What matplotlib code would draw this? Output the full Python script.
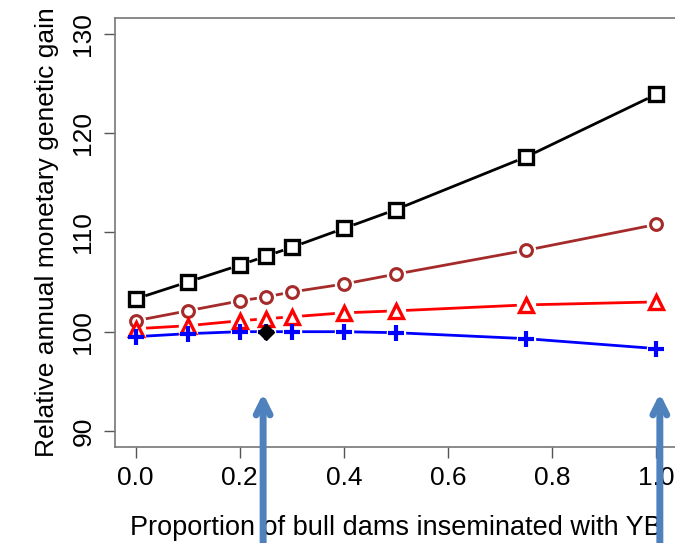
import matplotlib.pyplot as plt

plt.rcParams['font.family'] = ['Liberation Sans', 'DejaVu Sans']

prop = [0.0, 0.1, 0.2, 0.25, 0.3, 0.4, 0.5, 0.75, 1.0]
gain_sq = [103.3, 105.0, 106.7, 107.6, 108.5, 110.4, 112.3, 117.6, 123.9]
gain_circ = [101.1, 102.1, 103.1, 103.5, 104.0, 104.8, 105.8, 108.2, 110.8]
gain_tri = [100.3, 100.6, 101.1, 101.3, 101.5, 101.9, 102.1, 102.7, 103.0]
gain_plus = [99.5, 99.8, 100.0, 100.0, 100.0, 100.0, 99.9, 99.3, 98.3]
ref_x, ref_y = 0.25, 100.0
arrow_x = [0.245, 1.007]

series = [
    (gain_sq, 'black', 's'),
    (gain_circ, '#A52A2A', 'o'),
    (gain_tri, 'red', '^'),
    (gain_plus, 'blue', '+'),
]

fig = plt.figure(figsize=(6.75, 5.43), dpi=100)
ax = fig.add_axes([0.170, 0.177, 0.833, 0.790])

for vals, col, mk in series:
    ax.plot(prop, vals, color=col, lw=2, zorder=2)
    # white halo to make the gaps around the points
    ax.plot(prop, vals, ls='none', marker='o', ms=13, mfc='white', mec='white', zorder=3)
    if mk == '+':
        ax.plot(prop, vals, ls='none', marker='+', ms=12, mew=3, color=col, zorder=4)
    elif mk == 'o':
        ax.plot(prop, vals, ls='none', marker='o', ms=8.5,
                mfc='white', mec=col, mew=2.2, zorder=4)
    else:
        ax.plot(prop, vals, ls='none', marker=mk, ms=9.5,
                mfc='white', mec=col, mew=2.4, zorder=4)

ax.plot([ref_x], [ref_y], ls='none', marker='D', ms=8, color='black', zorder=5)

ax.set_xlim(-0.04, 1.04)
ax.set_ylim(88.4, 131.6)
ax.set_xticks([0.0, 0.2, 0.4, 0.6, 0.8, 1.0])
ax.set_xticklabels(['0.0', '0.2', '0.4', '0.6', '0.8', '1.0'])
ax.set_yticks([90, 100, 110, 120, 130])
ax.set_yticklabels(['90', '100', '110', '120', '130'], rotation=90, va='center')
ax.tick_params(axis='both', length=8, width=1, color='#555555', labelsize=19, pad=6)
for s in ax.spines.values():
    s.set_color('#777777')
    s.set_linewidth(1.2)

ax.set_xlabel('Proportion of bull dams inseminated with YB', fontsize=19.5, labelpad=18)
ax.set_ylabel('Relative annual monetary genetic gain', fontsize=19, labelpad=9)

for xa in arrow_x:
    ax.annotate('', xy=(xa, 93.8), xytext=(xa, 75.0),
                arrowprops=dict(arrowstyle='->,head_length=1.0,head_width=0.5',
                                color='#4F81BD', lw=5, shrinkA=0, shrinkB=0),
                annotation_clip=False, zorder=6)

fig.savefig('out.png', dpi=100)
